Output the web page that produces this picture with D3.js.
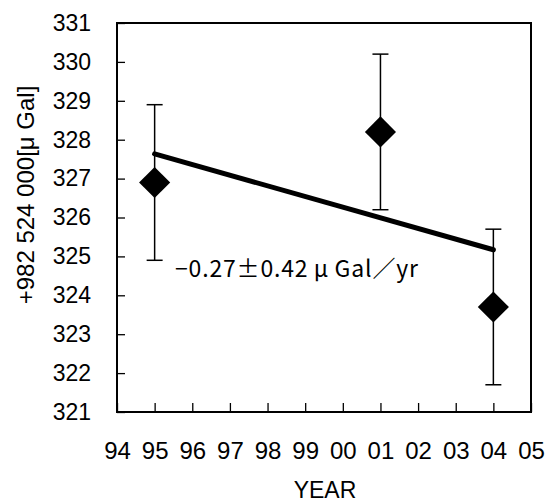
<!DOCTYPE html>
<html>
<head>
<meta charset="utf-8">
<script src="https://cdn.jsdelivr.net/npm/d3@7"></script>
<style>
  body { margin: 0; background: #fff; }
  text { font-family: "Liberation Sans", Arial, sans-serif; fill: #000; }
</style>
</head>
<body>
<div id="chart"></div>
<script>
// observations (year, gravity offset in uGal, error)
const years = [1995, 2001, 2004];
const gravity = [326.9, 328.2, 323.7];
const errors = [2.0, 2.0, 2.0];

const yearTicks = d3.range(1994, 2006);
const gravTicks = d3.range(321, 332);

const w = 546;
const h = 501;
const plotL = 117, plotR = 531, plotT = 23, plotB = 412;

const xScale = d3.scaleLinear().domain([1994, 2005]).range([plotL, plotR]);
const yScale = d3.scaleLinear().domain([321, 331]).range([plotB, plotT]);

const svg = d3.select("#chart").append("svg")
  .attr("width", w)
  .attr("height", h);

// axes, ticks pointing inward
const xAxis = d3.axisBottom(xScale)
  .tickValues(yearTicks)
  .tickSize(-9)
  .tickPadding(30)
  .tickFormat((d) => String(d % 100).padStart(2, "0"));

const yAxis = d3.axisLeft(yScale)
  .tickValues(gravTicks)
  .tickSize(-8)
  .tickPadding(26)
  .tickFormat(d3.format("d"));

const gx = svg.append("g")
  .attr("transform", "translate(0," + plotB + ")")
  .call(xAxis);
const gy = svg.append("g")
  .attr("transform", "translate(" + plotL + ",0)")
  .call(yAxis);

[gx, gy].forEach((g) => {
  g.select(".domain").remove();
  g.selectAll("line").attr("stroke", "#000").attr("stroke-width", 1.3);
  g.selectAll("text").attr("fill", "#000");
});
gx.selectAll("text").attr("font-size", 24);
gy.selectAll("text").attr("font-size", 23);

// frame
svg.append("rect")
  .attr("x", plotL)
  .attr("y", plotT)
  .attr("width", plotR - plotL)
  .attr("height", plotB - plotT)
  .attr("fill", "none")
  .attr("stroke", "#000")
  .attr("stroke-width", 2);

// least squares trend
const mx = d3.mean(years);
const my = d3.mean(gravity);
const slope = d3.sum(years, (d, i) => (d - mx) * (gravity[i] - my)) /
  d3.sum(years, (d) => (d - mx) * (d - mx));
const fit = (x) => my + slope * (x - mx);
const trendYears = [d3.min(years), d3.max(years)];

svg.append("line")
  .attr("x1", xScale(trendYears[0]))
  .attr("y1", yScale(fit(trendYears[0])))
  .attr("x2", xScale(trendYears[1]))
  .attr("y2", yScale(fit(trendYears[1])))
  .attr("stroke", "#000")
  .attr("stroke-width", 5)
  .attr("stroke-linecap", "round");

// error bars
const cap = 8;
const eb = svg.append("g").attr("stroke", "#000").attr("stroke-width", 1.5);
years.forEach((yr, i) => {
  const x = xScale(yr);
  const y1 = yScale(gravity[i] + errors[i]);
  const y2 = yScale(gravity[i] - errors[i]);
  eb.append("line").attr("x1", x).attr("x2", x).attr("y1", y1).attr("y2", y2);
  eb.append("line").attr("x1", x - cap).attr("x2", x + cap).attr("y1", y1).attr("y2", y1);
  eb.append("line").attr("x1", x - cap).attr("x2", x + cap).attr("y1", y2).attr("y2", y2);
});

// diamonds
svg.selectAll(".pt")
  .data(years)
  .enter()
  .append("path")
  .attr("class", "pt")
  .attr("d", d3.symbol(d3.symbolSquare, 484))
  .attr("transform", (d, i) => "translate(" + xScale(d) + "," + yScale(gravity[i]) + ") rotate(45)")
  .attr("fill", "#000");

// annotation
svg.append("text")
  .attr("x", 175)
  .attr("y", 277)
  .attr("font-size", 23)
  .attr("textLength", 243)
  .attr("lengthAdjust", "spacing")
  .style("font-family", "'Noto Sans CJK JP', sans-serif")
  .text("\u22120.27\u00b10.42\u2009\u03bc\u2009Gal\uff0fyr");

// axis titles
svg.append("text")
  .attr("transform", "translate(34,195) rotate(-90)")
  .attr("text-anchor", "middle")
  .attr("font-size", 24)
  .text("+982 524 000[\u03bc Gal]");

svg.append("text")
  .attr("x", 325)
  .attr("y", 498)
  .attr("text-anchor", "middle")
  .attr("font-size", 23)
  .text("YEAR");
</script>
</body>
</html>
